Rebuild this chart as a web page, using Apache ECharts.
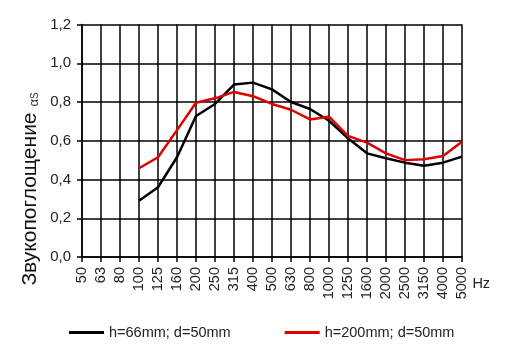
<!DOCTYPE html>
<html><head><meta charset="utf-8">
<script src="https://cdn.jsdelivr.net/npm/echarts@6/dist/echarts.min.js"></script>
<style>html,body{margin:0;padding:0;background:#fff}#c{width:509px;height:363px}</style>
</head><body><div id="c"></div>
<script>
const categories = ['50','63','80','100','125','160','200','250','315','400','500','630','800','1000','1250','1600','2000','2500','3150','4000','5000'];
const seriesNames = ['h=66mm; d=50mm', 'h=200mm; d=50mm'];
const blackValues = [null,null,null,0.29,0.36,0.515,0.728,0.79,0.89,0.90,0.865,0.80,0.764,0.703,0.613,0.535,0.51,0.487,0.471,0.487,0.518];
const redValues = [null,null,null,0.458,0.515,0.655,0.796,0.819,0.852,0.83,0.79,0.76,0.71,0.724,0.625,0.59,0.535,0.50,0.504,0.521,0.595];
const yTicks = { min: 0, max: 1.2, interval: 0.2 };
const font = 'Arial, "Liberation Sans", sans-serif';

const chart = echarts.init(document.getElementById('c'), null, {renderer: 'canvas'});
chart.setOption({
  animation: false,
  backgroundColor: '#fff',
  grid: { left: 82, right: 47, top: 24.5, bottom: 106 },
  xAxis: {
    type: 'category', data: categories, boundaryGap: false,
    name: 'Hz', nameLocation: 'end', nameGap: 9,
    nameTextStyle: { fontFamily: font, fontSize: 14.5, color: '#222', verticalAlign: 'top', padding: [19, 0, 0, 0] },
    axisLine: { lineStyle: { color: '#000', width: 1.5 } },
    axisTick: { show: true, length: 5, lineStyle: { color: '#000', width: 1.5 }, interval: 0 },
    axisLabel: { rotate: 90, interval: 0, margin: 10, fontFamily: font, fontSize: 14.5, color: '#222' },
    splitLine: { show: true, interval: 0, lineStyle: { color: '#000', width: 1.5 } }
  },
  yAxis: {
    type: 'value', min: yTicks.min, max: yTicks.max, interval: yTicks.interval,
    axisLine: { show: true, lineStyle: { color: '#000', width: 1.5 } },
    axisTick: { show: true, length: 5, lineStyle: { color: '#000', width: 1.5 } },
    axisLabel: { margin: 11, fontFamily: font, fontSize: 15, color: '#222',
      formatter: v => v.toFixed(1).replace('.', ',') },
    splitLine: { show: true, lineStyle: { color: '#000', width: 1.5 } }
  },
  legend: {
    bottom: 18, left: 64, itemGap: 54, itemWidth: 35, itemHeight: 3,
    icon: 'rect',
    textStyle: { fontFamily: font, fontSize: 14.5, color: '#222' },
    data: seriesNames
  },
  graphic: [{
    type: 'text', x: 30, y: 189, rotation: Math.PI / 2,
    style: {
      text: '{a|Звукопоглощение }{b|α}{c|S}',
      textAlign: 'center', textVerticalAlign: 'middle',
      rich: {
        a: { fontFamily: font, fontSize: 21, fill: '#111', verticalAlign: 'bottom' },
        b: { fontFamily: font, fontSize: 13, fill: '#333', verticalAlign: 'bottom' },
        c: { fontFamily: font, fontSize: 10, fill: '#333', verticalAlign: 'bottom', padding: [6, 0, 0, 0] }
      }
    }
  }],
  series: [
    { name: seriesNames[0], type: 'line', data: blackValues, symbol: 'none', connectNulls: false,
      lineStyle: { color: '#000', width: 2.5 }, itemStyle: { color: '#000' } },
    { name: seriesNames[1], type: 'line', data: redValues, symbol: 'none', connectNulls: false,
      lineStyle: { color: '#dd0000', width: 2.5 }, itemStyle: { color: '#dd0000' } }
  ]
});
</script></body></html>
